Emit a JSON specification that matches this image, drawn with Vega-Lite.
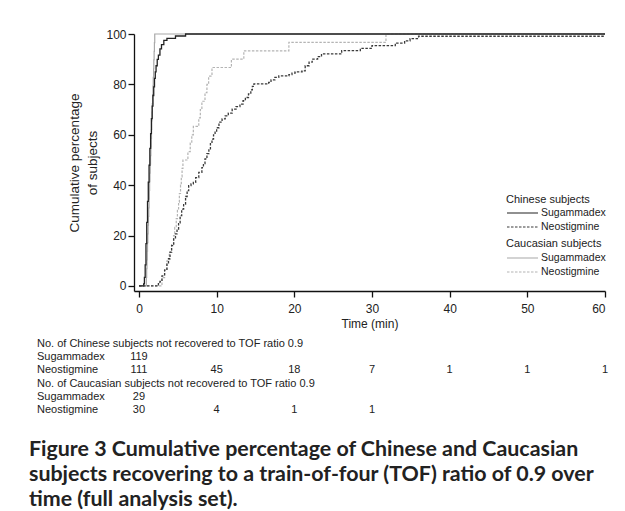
{
  "$schema": "https://vega.github.io/schema/vega-lite/v6.json",
  "background": "white",
  "padding": {"left": 28, "top": 28, "right": 0, "bottom": 0},
  "config": {"view": {"stroke": null}},
  "datasets": {
    "curves": [
      {"g":"Chinese","d":"Sugammadex","t":0,"p":0},{"g":"Chinese","d":"Sugammadex","t":0.6,"p":0.8},{"g":"Chinese","d":"Sugammadex","t":0.7,"p":3.4},{"g":"Chinese","d":"Sugammadex","t":0.8,"p":8.4},{"g":"Chinese","d":"Sugammadex","t":0.9,"p":16.8},{"g":"Chinese","d":"Sugammadex","t":1.0,"p":25.2},{"g":"Chinese","d":"Sugammadex","t":1.1,"p":33.6},{"g":"Chinese","d":"Sugammadex","t":1.2,"p":41.2},{"g":"Chinese","d":"Sugammadex","t":1.3,"p":47.9},{"g":"Chinese","d":"Sugammadex","t":1.4,"p":54.6},{"g":"Chinese","d":"Sugammadex","t":1.5,"p":60.5},{"g":"Chinese","d":"Sugammadex","t":1.6,"p":66.4},{"g":"Chinese","d":"Sugammadex","t":1.7,"p":71.4},{"g":"Chinese","d":"Sugammadex","t":1.8,"p":75.6},{"g":"Chinese","d":"Sugammadex","t":1.9,"p":79.0},{"g":"Chinese","d":"Sugammadex","t":2.0,"p":82.4},{"g":"Chinese","d":"Sugammadex","t":2.1,"p":85.0},{"g":"Chinese","d":"Sugammadex","t":2.2,"p":87.4},{"g":"Chinese","d":"Sugammadex","t":2.35,"p":89.9},{"g":"Chinese","d":"Sugammadex","t":2.5,"p":91.6},{"g":"Chinese","d":"Sugammadex","t":2.7,"p":94.1},{"g":"Chinese","d":"Sugammadex","t":2.9,"p":95.8},{"g":"Chinese","d":"Sugammadex","t":3.2,"p":97.5},{"g":"Chinese","d":"Sugammadex","t":3.6,"p":98.3},{"g":"Chinese","d":"Sugammadex","t":4.7,"p":99.2},{"g":"Chinese","d":"Sugammadex","t":6.0,"p":100},{"g":"Chinese","d":"Sugammadex","t":60,"p":100},
      {"g":"Chinese","d":"Neostigmine","t":0,"p":0},{"g":"Chinese","d":"Neostigmine","t":2.5,"p":0.9},{"g":"Chinese","d":"Neostigmine","t":2.7,"p":1.8},{"g":"Chinese","d":"Neostigmine","t":2.96,"p":4.0},{"g":"Chinese","d":"Neostigmine","t":3.3,"p":6.3},{"g":"Chinese","d":"Neostigmine","t":3.6,"p":8.7},{"g":"Chinese","d":"Neostigmine","t":3.8,"p":10.8},{"g":"Chinese","d":"Neostigmine","t":4.0,"p":13.4},{"g":"Chinese","d":"Neostigmine","t":4.2,"p":16.0},{"g":"Chinese","d":"Neostigmine","t":4.47,"p":18.7},{"g":"Chinese","d":"Neostigmine","t":4.7,"p":20.7},{"g":"Chinese","d":"Neostigmine","t":4.9,"p":22.6},{"g":"Chinese","d":"Neostigmine","t":5.1,"p":25.0},{"g":"Chinese","d":"Neostigmine","t":5.3,"p":27.9},{"g":"Chinese","d":"Neostigmine","t":5.5,"p":30.5},{"g":"Chinese","d":"Neostigmine","t":5.75,"p":32.5},{"g":"Chinese","d":"Neostigmine","t":6.0,"p":35.5},{"g":"Chinese","d":"Neostigmine","t":6.2,"p":37.8},{"g":"Chinese","d":"Neostigmine","t":6.4,"p":39.8},{"g":"Chinese","d":"Neostigmine","t":6.7,"p":40.5},{"g":"Chinese","d":"Neostigmine","t":7.0,"p":41.1},{"g":"Chinese","d":"Neostigmine","t":7.3,"p":43.0},{"g":"Chinese","d":"Neostigmine","t":7.7,"p":45.1},{"g":"Chinese","d":"Neostigmine","t":8.1,"p":47.0},{"g":"Chinese","d":"Neostigmine","t":8.3,"p":48.6},{"g":"Chinese","d":"Neostigmine","t":8.5,"p":50.4},{"g":"Chinese","d":"Neostigmine","t":8.75,"p":52.5},{"g":"Chinese","d":"Neostigmine","t":9.0,"p":54.4},{"g":"Chinese","d":"Neostigmine","t":9.2,"p":56.5},{"g":"Chinese","d":"Neostigmine","t":9.4,"p":58.3},{"g":"Chinese","d":"Neostigmine","t":9.6,"p":60.0},{"g":"Chinese","d":"Neostigmine","t":9.8,"p":61.5},{"g":"Chinese","d":"Neostigmine","t":10.0,"p":62.8},{"g":"Chinese","d":"Neostigmine","t":10.3,"p":65.0},{"g":"Chinese","d":"Neostigmine","t":10.7,"p":66.3},{"g":"Chinese","d":"Neostigmine","t":11.1,"p":67.5},{"g":"Chinese","d":"Neostigmine","t":11.5,"p":68.6},{"g":"Chinese","d":"Neostigmine","t":12.0,"p":70.2},{"g":"Chinese","d":"Neostigmine","t":12.5,"p":71.2},{"g":"Chinese","d":"Neostigmine","t":13.0,"p":72.2},{"g":"Chinese","d":"Neostigmine","t":13.4,"p":73.5},{"g":"Chinese","d":"Neostigmine","t":13.7,"p":74.8},{"g":"Chinese","d":"Neostigmine","t":14.1,"p":76.2},{"g":"Chinese","d":"Neostigmine","t":14.4,"p":77.8},{"g":"Chinese","d":"Neostigmine","t":14.6,"p":79.2},{"g":"Chinese","d":"Neostigmine","t":14.8,"p":80.2},{"g":"Chinese","d":"Neostigmine","t":16.7,"p":80.8},{"g":"Chinese","d":"Neostigmine","t":17.0,"p":81.8},{"g":"Chinese","d":"Neostigmine","t":17.5,"p":82.8},{"g":"Chinese","d":"Neostigmine","t":18.0,"p":83.4},{"g":"Chinese","d":"Neostigmine","t":19.3,"p":83.9},{"g":"Chinese","d":"Neostigmine","t":19.7,"p":84.5},{"g":"Chinese","d":"Neostigmine","t":20.1,"p":85.0},{"g":"Chinese","d":"Neostigmine","t":21.0,"p":85.4},{"g":"Chinese","d":"Neostigmine","t":21.4,"p":87.4},{"g":"Chinese","d":"Neostigmine","t":21.9,"p":88.8},{"g":"Chinese","d":"Neostigmine","t":22.3,"p":90.0},{"g":"Chinese","d":"Neostigmine","t":23.0,"p":91.0},{"g":"Chinese","d":"Neostigmine","t":23.5,"p":92.1},{"g":"Chinese","d":"Neostigmine","t":26.1,"p":93.4},{"g":"Chinese","d":"Neostigmine","t":28.5,"p":94.3},{"g":"Chinese","d":"Neostigmine","t":30.0,"p":95.4},{"g":"Chinese","d":"Neostigmine","t":33.0,"p":96.4},{"g":"Chinese","d":"Neostigmine","t":34.2,"p":97.3},{"g":"Chinese","d":"Neostigmine","t":34.9,"p":98.2},{"g":"Chinese","d":"Neostigmine","t":36.0,"p":99.1},{"g":"Chinese","d":"Neostigmine","t":60,"p":99.1},
      {"g":"Caucasian","d":"Sugammadex","t":0,"p":0},{"g":"Caucasian","d":"Sugammadex","t":0.95,"p":3.4},{"g":"Caucasian","d":"Sugammadex","t":0.99,"p":6.9},{"g":"Caucasian","d":"Sugammadex","t":1.03,"p":10.3},{"g":"Caucasian","d":"Sugammadex","t":1.07,"p":13.8},{"g":"Caucasian","d":"Sugammadex","t":1.10,"p":17.2},{"g":"Caucasian","d":"Sugammadex","t":1.14,"p":20.7},{"g":"Caucasian","d":"Sugammadex","t":1.18,"p":24.1},{"g":"Caucasian","d":"Sugammadex","t":1.22,"p":27.6},{"g":"Caucasian","d":"Sugammadex","t":1.26,"p":31.0},{"g":"Caucasian","d":"Sugammadex","t":1.30,"p":34.5},{"g":"Caucasian","d":"Sugammadex","t":1.34,"p":37.9},{"g":"Caucasian","d":"Sugammadex","t":1.37,"p":41.4},{"g":"Caucasian","d":"Sugammadex","t":1.41,"p":44.8},{"g":"Caucasian","d":"Sugammadex","t":1.45,"p":48.3},{"g":"Caucasian","d":"Sugammadex","t":1.49,"p":51.7},{"g":"Caucasian","d":"Sugammadex","t":1.53,"p":55.2},{"g":"Caucasian","d":"Sugammadex","t":1.57,"p":58.6},{"g":"Caucasian","d":"Sugammadex","t":1.61,"p":62.1},{"g":"Caucasian","d":"Sugammadex","t":1.64,"p":65.5},{"g":"Caucasian","d":"Sugammadex","t":1.68,"p":69.0},{"g":"Caucasian","d":"Sugammadex","t":1.72,"p":72.4},{"g":"Caucasian","d":"Sugammadex","t":1.76,"p":75.9},{"g":"Caucasian","d":"Sugammadex","t":1.80,"p":79.3},{"g":"Caucasian","d":"Sugammadex","t":1.84,"p":82.8},{"g":"Caucasian","d":"Sugammadex","t":1.88,"p":86.2},{"g":"Caucasian","d":"Sugammadex","t":1.91,"p":89.7},{"g":"Caucasian","d":"Sugammadex","t":1.95,"p":93.1},{"g":"Caucasian","d":"Sugammadex","t":1.99,"p":96.6},{"g":"Caucasian","d":"Sugammadex","t":2.03,"p":100},{"g":"Caucasian","d":"Sugammadex","t":60,"p":100},
      {"g":"Caucasian","d":"Neostigmine","t":0,"p":0},{"g":"Caucasian","d":"Neostigmine","t":2.96,"p":3.3},{"g":"Caucasian","d":"Neostigmine","t":3.3,"p":6.7},{"g":"Caucasian","d":"Neostigmine","t":3.6,"p":10.0},{"g":"Caucasian","d":"Neostigmine","t":3.9,"p":13.3},{"g":"Caucasian","d":"Neostigmine","t":4.2,"p":16.7},{"g":"Caucasian","d":"Neostigmine","t":4.45,"p":20.0},{"g":"Caucasian","d":"Neostigmine","t":4.6,"p":23.3},{"g":"Caucasian","d":"Neostigmine","t":4.8,"p":26.7},{"g":"Caucasian","d":"Neostigmine","t":4.95,"p":30.0},{"g":"Caucasian","d":"Neostigmine","t":5.1,"p":33.3},{"g":"Caucasian","d":"Neostigmine","t":5.2,"p":36.7},{"g":"Caucasian","d":"Neostigmine","t":5.35,"p":40.0},{"g":"Caucasian","d":"Neostigmine","t":5.45,"p":43.3},{"g":"Caucasian","d":"Neostigmine","t":5.55,"p":46.7},{"g":"Caucasian","d":"Neostigmine","t":5.66,"p":50.0},{"g":"Caucasian","d":"Neostigmine","t":6.3,"p":53.3},{"g":"Caucasian","d":"Neostigmine","t":6.6,"p":56.7},{"g":"Caucasian","d":"Neostigmine","t":6.8,"p":60.0},{"g":"Caucasian","d":"Neostigmine","t":7.0,"p":63.3},{"g":"Caucasian","d":"Neostigmine","t":7.7,"p":66.7},{"g":"Caucasian","d":"Neostigmine","t":7.9,"p":70.0},{"g":"Caucasian","d":"Neostigmine","t":8.1,"p":73.3},{"g":"Caucasian","d":"Neostigmine","t":8.5,"p":76.7},{"g":"Caucasian","d":"Neostigmine","t":8.75,"p":80.0},{"g":"Caucasian","d":"Neostigmine","t":8.97,"p":83.3},{"g":"Caucasian","d":"Neostigmine","t":9.4,"p":86.7},{"g":"Caucasian","d":"Neostigmine","t":11.9,"p":90.0},{"g":"Caucasian","d":"Neostigmine","t":13.5,"p":93.3},{"g":"Caucasian","d":"Neostigmine","t":19.3,"p":96.7},{"g":"Caucasian","d":"Neostigmine","t":31.8,"p":100},{"g":"Caucasian","d":"Neostigmine","t":60,"p":100}
    ],
    "counts": [
      {"row":"c_sug","t":0,"n":"119"},
      {"row":"c_neo","t":0,"n":"111"},{"row":"c_neo","t":10,"n":"45"},{"row":"c_neo","t":20,"n":"18"},{"row":"c_neo","t":30,"n":"7"},{"row":"c_neo","t":40,"n":"1"},{"row":"c_neo","t":50,"n":"1"},{"row":"c_neo","t":60,"n":"1"},
      {"row":"u_sug","t":0,"n":"29"},
      {"row":"u_neo","t":0,"n":"30"},{"row":"u_neo","t":10,"n":"4"},{"row":"u_neo","t":20,"n":"1"},{"row":"u_neo","t":30,"n":"1"}
    ],
    "rows": [
      {"row":"c_head","label":"No. of Chinese subjects not recovered to TOF ratio 0.9"},
      {"row":"c_sug","label":"Sugammadex"},
      {"row":"c_neo","label":"Neostigmine"},
      {"row":"u_head","label":"No. of Caucasian subjects not recovered to TOF ratio 0.9"},
      {"row":"u_sug","label":"Sugammadex"},
      {"row":"u_neo","label":"Neostigmine"}
    ]
  },
  "title": {
    "text": ["Figure 3 Cumulative percentage of Chinese and Caucasian", "subjects recovering to a train-of-four (TOF) ratio of 0.9 over", "time (full analysis set)."],
    "orient": "bottom", "anchor": "start", "font": "Lato", "fontSize": 21.4, "fontWeight": "bold", "lineHeight": 25, "color": "#222222", "offset": 24, "dx": -8
  },
  "vconcat": [
    {
      "width": 471, "height": 257,
      "data": {"name": "curves"},
      "encoding": {
        "x": {"field": "t", "type": "quantitative", "scale": {"domain": [-0.64, 60], "nice": false, "zero": false},
          "axis": {"values": [0,10,20,30,40,50,60], "title": "Time (min)", "grid": false, "domainColor": "#111", "domainWidth": 1.3, "tickColor": "#111", "tickWidth": 1.3, "tickSize": 6, "labelFont": "Liberation Sans", "labelFontSize": 12, "labelColor": "#222", "labelPadding": 6, "titleFont": "Liberation Sans", "titleFontSize": 12, "titleFontWeight": "normal", "titleColor": "#222", "titlePadding": 4}},
        "y": {"field": "p", "type": "quantitative", "scale": {"domain": [-2, 100], "nice": false, "zero": false},
          "axis": {"values": [0,20,40,60,80,100], "title": ["Cumulative percentage", "of subjects"], "grid": false, "domainColor": "#111", "domainWidth": 1.3, "tickColor": "#111", "tickWidth": 1.3, "tickSize": 6, "labelFont": "Liberation Sans", "labelFontSize": 12, "labelColor": "#222", "labelPadding": 2, "titleFont": "Liberation Sans", "titleFontSize": 13.5, "titleFontWeight": "normal", "titleColor": "#222", "titleLineHeight": 18, "titlePadding": 6}}
      },
      "layer": [
        {
          "transform": [{"filter": "datum.g == 'Caucasian'"}],
          "mark": {"type": "line", "interpolate": "step-after", "strokeWidth": 1.2},
          "encoding": {
            "color": {"field": "d", "type": "nominal", "scale": {"domain": ["Sugammadex", "Neostigmine"], "range": ["#a8a8a8", "#b4b4b4"]},
              "legend": {"title": "Caucasian subjects", "orient": "none", "legendX": 372, "legendY": 204, "padding": 0, "titleFont": "Liberation Sans", "titleFontSize": 11, "titleFontWeight": "normal", "titleColor": "#222", "titlePadding": 3, "labelFont": "Liberation Sans", "labelFontSize": 10.5, "labelColor": "#222", "symbolType": "M-1,0H5.2", "symbolSize": 100, "symbolStrokeWidth": 1.2, "labelOffset": 23, "rowPadding": 2}},
            "strokeDash": {"field": "d", "type": "nominal", "scale": {"domain": ["Sugammadex", "Neostigmine"], "range": [[1, 0], [2.5, 1.5]]},
              "legend": {"title": "Caucasian subjects", "orient": "none", "legendX": 372, "legendY": 204, "padding": 0, "titleFont": "Liberation Sans", "titleFontSize": 11, "titleFontWeight": "normal", "titleColor": "#222", "titlePadding": 3, "labelFont": "Liberation Sans", "labelFontSize": 10.5, "labelColor": "#222", "symbolType": "M-1,0H5.2", "symbolSize": 100, "symbolStrokeWidth": 1.2, "labelOffset": 23, "rowPadding": 2}}
          }
        },
        {
          "transform": [{"filter": "datum.g == 'Chinese'"}],
          "mark": {"type": "line", "interpolate": "step-after", "strokeWidth": 1.3},
          "encoding": {
            "color": {"field": "d", "type": "nominal", "scale": {"domain": ["Sugammadex", "Neostigmine"], "range": ["#222222", "#3a3a3a"]},
              "legend": {"title": "Chinese subjects", "orient": "none", "legendX": 372, "legendY": 160, "padding": 0, "titleFont": "Liberation Sans", "titleFontSize": 11, "titleFontWeight": "normal", "titleColor": "#222", "titlePadding": 2, "labelFont": "Liberation Sans", "labelFontSize": 10.5, "labelColor": "#222", "symbolType": "M-1,0H5.2", "symbolSize": 100, "symbolStrokeWidth": 1.2, "labelOffset": 23, "rowPadding": 2}},
            "strokeDash": {"field": "d", "type": "nominal", "scale": {"domain": ["Sugammadex", "Neostigmine"], "range": [[1, 0], [2.5, 1.5]]},
              "legend": {"title": "Chinese subjects", "orient": "none", "legendX": 372, "legendY": 160, "padding": 0, "titleFont": "Liberation Sans", "titleFontSize": 11, "titleFontWeight": "normal", "titleColor": "#222", "titlePadding": 2, "labelFont": "Liberation Sans", "labelFontSize": 10.5, "labelColor": "#222", "symbolType": "M-1,0H5.2", "symbolSize": 100, "symbolStrokeWidth": 1.2, "labelOffset": 23, "rowPadding": 2}}
          }
        }
      ],
      "resolve": {"scale": {"color": "independent", "strokeDash": "independent"}, "legend": {"color": "independent", "strokeDash": "independent"}}
    },
    {
      "width": 471, "height": 66,
      "layer": [
        {
          "data": {"name": "counts"},
          "mark": {"type": "text", "align": "center", "baseline": "middle", "font": "Liberation Sans", "fontSize": 11, "color": "#222"},
          "encoding": {
            "x": {"field": "t", "type": "quantitative", "scale": {"domain": [-0.64, 60], "nice": false, "zero": false}, "axis": null},
            "y": {"field": "row", "type": "nominal", "scale": {"type": "point", "domain": ["c_head","c_sug","c_neo","u_head","u_sug","u_neo"], "padding": 0}, "axis": null},
            "text": {"field": "n"}
          }
        },
        {
          "data": {"name": "rows"},
          "mark": {"type": "text", "align": "left", "baseline": "middle", "font": "Liberation Sans", "fontSize": 11, "color": "#222"},
          "encoding": {
            "x": {"datum": -13.13, "type": "quantitative", "scale": {"domain": [-0.64, 60], "nice": false, "zero": false}, "axis": null},
            "y": {"field": "row", "type": "nominal", "scale": {"type": "point", "domain": ["c_head","c_sug","c_neo","u_head","u_sug","u_neo"], "padding": 0}, "axis": null},
            "text": {"field": "label"}
          }
        }
      ]
    }
  ],
  "spacing": 9
}
